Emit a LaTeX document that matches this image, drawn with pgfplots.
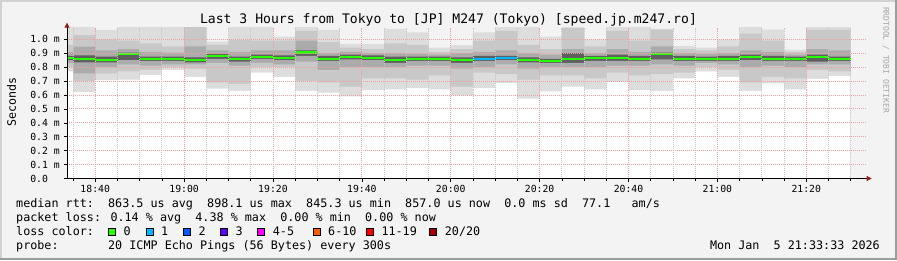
\documentclass[border=0pt]{standalone}
\usepackage{pgfplots}
\pgfplotsset{compat=1.18}
\usepackage{pgfplotstable}
\usepackage{fontspec}
\setmainfont{DejaVu Sans Mono}
\usetikzlibrary{arrows.meta}

\definecolor{bgcol}{RGB}{243,243,243}
\definecolor{shadea}{RGB}{210,210,210}
\definecolor{shadeb}{RGB}{158,158,158}
\definecolor{gridred}{RGB}{240,160,160}
\definecolor{gridgray}{RGB}{200,200,200}
\definecolor{arrowred}{RGB}{150,30,30}
\definecolor{sa}{RGB}{221,221,221}
\definecolor{sb}{RGB}{200,200,200}
\definecolor{sc}{RGB}{171,171,171}
\definecolor{sd}{RGB}{95,95,95}
\definecolor{l0}{RGB}{38,255,0}
\definecolor{l1}{RGB}{0,184,255}
\definecolor{l2}{RGB}{0,89,255}
\definecolor{l3}{RGB}{94,0,255}
\definecolor{l4}{RGB}{255,0,255}
\definecolor{l5}{RGB}{255,94,0}
\definecolor{l6}{RGB}{255,0,0}
\definecolor{l7}{RGB}{160,0,0}

\pgfplotstableread{
t   mn    l2    l3    l4    med   h4    h3    h2    mx
30  0.770 0.800 0.830 0.850 0.865 0.880 0.910 0.960 1.090
35  0.620 0.700 0.755 0.835 0.858 0.885 0.947 1.030 1.090
40  0.707 0.755 0.800 0.835 0.851 0.875 0.920 1.000 1.067
45  0.710 0.770 0.820 0.850 0.896 0.905 0.930 0.990 1.090
50  0.745 0.780 0.810 0.845 0.860 0.875 0.910 0.970 1.090
55  0.780 0.800 0.820 0.845 0.860 0.875 0.905 0.950 1.090
60  0.730 0.790 0.820 0.835 0.851 0.870 0.950 1.090 1.090
65  0.645 0.690 0.830 0.860 0.880 0.895 0.920 0.960 0.983
70  0.630 0.680 0.810 0.840 0.860 0.875 0.910 0.995 1.090
75  0.760 0.800 0.830 0.860 0.875 0.890 0.920 0.990 1.090
80  0.730 0.800 0.820 0.850 0.868 0.885 0.920 0.990 1.020
85  0.630 0.700 0.840 0.880 0.905 0.920 0.990 1.060 1.090
90  0.617 0.690 0.780 0.845 0.860 0.880 0.900 0.980 1.067
95  0.590 0.660 0.800 0.855 0.875 0.890 0.910 0.940 0.967
100 0.635 0.720 0.800 0.850 0.868 0.885 0.900 0.930 0.967
105 0.640 0.720 0.800 0.830 0.851 0.875 0.900 0.970 1.074
110 0.650 0.710 0.810 0.845 0.860 0.875 0.895 0.960 1.050
115 0.640 0.740 0.810 0.845 0.860 0.875 0.890 0.910 0.940
120 0.595 0.660 0.790 0.830 0.851 0.870 0.900 0.930 0.959
125 0.650 0.760 0.800 0.845 0.860 0.880 0.910 0.990 1.050
130 0.685 0.750 0.820 0.850 0.866 0.880 0.920 1.060 1.090
135 0.573 0.710 0.790 0.835 0.851 0.870 0.900 0.960 1.090
140 0.625 0.740 0.800 0.830 0.845 0.860 0.890 0.930 1.020
145 0.660 0.740 0.800 0.830 0.858 0.900 0.930 1.080 1.090
150 0.640 0.720 0.800 0.845 0.865 0.880 0.900 0.950 1.000
155 0.695 0.760 0.810 0.845 0.865 0.890 0.930 1.060 1.090
160 0.635 0.740 0.810 0.845 0.860 0.880 0.910 0.990 1.090
165 0.630 0.750 0.820 0.855 0.892 0.905 0.950 1.070 1.075
170 0.720 0.760 0.810 0.845 0.860 0.880 0.900 0.930 0.953
175 0.770 0.800 0.830 0.845 0.860 0.875 0.895 0.920 0.940
180 0.730 0.780 0.820 0.845 0.860 0.880 0.900 0.950 1.000
185 0.630 0.690 0.800 0.850 0.875 0.890 0.920 1.040 1.090
190 0.683 0.730 0.810 0.845 0.860 0.880 0.910 0.990 1.070
195 0.640 0.720 0.800 0.845 0.860 0.875 0.890 0.910 0.925
200 0.715 0.780 0.820 0.840 0.875 0.890 0.930 1.070 1.090
205 0.735 0.770 0.820 0.845 0.860 0.875 0.920 1.070 1.090
210 0.735 0.770 0.820 0.845 0.860 0.875 0.920 1.070 1.090
}\smoke

\begin{document}
\begin{tikzpicture}[x=1bp,y=1bp]
\fill[bgcol] (0,0) rectangle (897,260);
\fill[shadea] (0,0) rectangle (2,260);
\fill[shadea] (0,258) rectangle (897,260);
\fill[shadeb] (894.5,0) rectangle (897,260);
\fill[shadeb] (0,0) rectangle (897,2.5);

\begin{axis}[
  at={(67bp,81.5bp)}, anchor=south west, scale only axis,
  width=799.7bp, height=150.8bp,
  xmin=33.65, xmax=213.6, ymin=0, ymax=1.0833,
  axis lines=left,
  axis line style={line width=0.8bp, black},
  x axis line style={-{Triangle[length=5bp,width=5bp,color=arrowred]}, shorten >=-5bp},
  y axis line style={-{Triangle[length=5bp,width=5bp,color=arrowred]}, shorten >=-5bp},
  axis on top,
  xtick={40,60,...,200},
  xticklabels={18:40,19:00,19:20,19:40,20:00,20:20,20:40,21:00,21:20},
  minor xtick={35,40,...,210},
  ytick={0,0.1,0.2,0.3,0.4,0.5,0.6,0.7,0.8,0.9,1.0},
  yticklabels={0.0\hphantom{ m},0.1 m,0.2 m,0.3 m,0.4 m,0.5 m,0.6 m,0.7 m,0.8 m,0.9 m,1.0 m},
  xmajorgrids, xminorgrids, ymajorgrids,
  major grid style={draw=gridred, line width=0.8bp, dash pattern=on 1bp off 1bp},
  minor grid style={draw=gridgray, line width=0.8bp, dash pattern=on 1bp off 1bp},
  tick align=outside, major tick length=3bp, minor tick length=2bp,
  tick style={black, line width=0.6bp},
  ticklabel style={font=\fontsize{9.8bp}{11bp}\selectfont},
  xticklabel style={inner sep=0pt, yshift=-4bp},
  yticklabel style={inner sep=0pt, xshift=-4bp},
]
\addplot[const plot, draw=none, fill=sa] table[x=t,y=mx]{\smoke} \closedcycle;
\addplot[const plot, draw=none, fill=sb] table[x=t,y=h2]{\smoke} \closedcycle;
\addplot[const plot, draw=none, fill=sc] table[x=t,y=h3]{\smoke} \closedcycle;
\addplot[const plot, draw=none, fill=sd] table[x=t,y=h4]{\smoke} \closedcycle;
\addplot[const plot, draw=none, fill=sc] table[x=t,y=l4]{\smoke} \closedcycle;
\addplot[const plot, draw=none, fill=sb] table[x=t,y=l3]{\smoke} \closedcycle;
\addplot[const plot, draw=none, fill=sa] table[x=t,y=l2]{\smoke} \closedcycle;
\addplot[const plot, draw=none, fill=white] table[x=t,y=mn]{\smoke} \closedcycle;
\addplot[jump mark left, l0, line width=2.2bp] table[x=t,y=med]{\smoke};
\addplot[jump mark left, l1, line width=2.2bp] coordinates {(125,0.860) (130,0.866) (135,0.866)};
\end{axis}

\node[font=\fontsize{13.1bp}{15bp}\selectfont, anchor=base] at (448.5,236.5) {Last 3 Hours from Tokyo to [JP] M247 (Tokyo) [speed.jp.m247.ro]};
\node[font=\fontsize{11.6bp}{13bp}\selectfont, rotate=90] at (11.5,158) {Seconds};
\node[font=\fontsize{8bp}{9bp}\selectfont, rotate=-90, text=gray!70] at (886,200) {RRDTOOL / TOBI OETIKER};

\begin{scope}[every node/.style={font=\fontsize{11.75bp}{13bp}\selectfont, inner sep=0pt}]
\node[anchor=base west] at (16,52.5) {median rtt:\ \ 863.5 us avg\ \ 898.1 us max\ \ 845.3 us min\ \ 857.0 us now\ \ 0.0 ms sd\ \ 77.1\ \ \ am/s};
\node[anchor=base west] at (16,38.3) {packet loss: 0.14 \% avg\ \ 4.38 \% max\ \ 0.00 \% min\ \ 0.00 \% now};
\node[anchor=base west] at (16,24.3) {loss color:};
\node[anchor=base west] at (16,10.5) {probe:\ \ \ \ \ \ \ 20 ICMP Echo Pings (56 Bytes) every 300s};
\node[anchor=base east] at (880,10.5) {Mon Jan\ \ 5 21:33:33 2026};
\foreach \bx/\col/\lab in {108.3/l0/{0}, 146/l1/{1}, 183.3/l2/{2}, 220.3/l3/{3}, 257.7/l4/{4-5}, 313/l5/{6-10}, 366.3/l6/{11-19}, 429.7/l7/{20/20}}{
  \filldraw[fill=\col, draw=black, line width=0.8bp] (\bx,24.5) rectangle ++(7,7);
  \node[anchor=base west] at (\bx+15,24.3) {\lab};
}
\end{scope}
\end{tikzpicture}
\end{document}
